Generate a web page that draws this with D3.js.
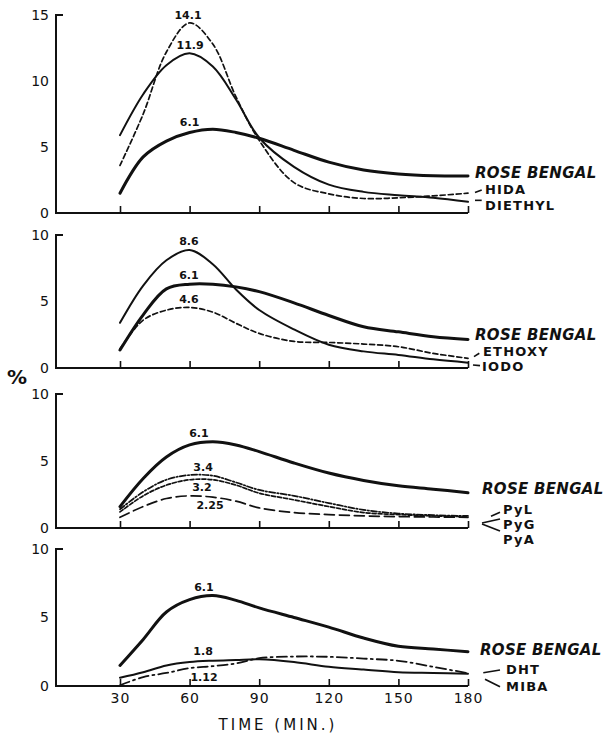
<!DOCTYPE html>
<html>
<head>
<meta charset="utf-8">
<script src="https://cdnjs.cloudflare.com/ajax/libs/d3/7.8.5/d3.min.js"></script>
<style>
  html, body { margin: 0; padding: 0; background: #fff; }
  svg { display: block; }
  text { font-family: "DejaVu Sans", sans-serif; fill: #111; }
</style>
</head>
<body>
<div id="chart"></div>
<script>
// ---- Data ---------------------------------------------------------
// sampling times (min) shared by every curve
const TIMES   = [30, 40, 50, 60, 70, 80, 90, 105, 120, 135, 150, 165, 180];
const X_TICKS = [30, 60, 90, 120, 150, 180];

// panel A
const ROSE_BENGAL_A = [1.5, 4.25, 5.45, 6.1, 6.35, 6.1, 5.66, 4.75, 3.85, 3.25, 2.95, 2.82, 2.8];
const HIDA          = [3.6, 7.5, 12.2, 14.4, 12.8, 8.8, 5.5, 2.3, 1.45, 1.1, 1.15, 1.3, 1.5];
const DIETHYL       = [5.9, 9.0, 11.2, 12.1, 11.1, 8.6, 5.7, 3.5, 2.15, 1.6, 1.35, 1.15, 0.85];
const NAMES_A = ['ROSE BENGAL', 'HIDA', 'DIETHYL'];
const PEAKS_A = ['14.1', '11.9', '6.1'];
const Y_TICKS_A = [0, 5, 10, 15];

// panel B
const ROSE_BENGAL_B = [1.35, 4.0, 5.95, 6.3, 6.3, 6.1, 5.74, 4.9, 3.95, 3.1, 2.72, 2.35, 2.15];
const ETHOXY        = [1.45, 3.6, 4.35, 4.55, 4.2, 3.36, 2.6, 2.0, 1.92, 1.8, 1.6, 1.1, 0.73];
const IODO          = [3.4, 6.2, 8.1, 8.87, 7.8, 5.9, 4.36, 2.9, 1.75, 1.25, 0.98, 0.65, 0.4];
const NAMES_B = ['ROSE BENGAL', 'ETHOXY', 'IODO'];
const PEAKS_B = ['8.6', '6.1', '4.6'];

// panel C
const ROSE_BENGAL_C = [1.6, 3.7, 5.3, 6.2, 6.44, 6.2, 5.7, 4.85, 4.1, 3.55, 3.15, 2.9, 2.63];
const PYL           = [1.4, 2.7, 3.6, 3.95, 3.9, 3.4, 2.84, 2.4, 1.86, 1.35, 1.08, 0.96, 0.9];
const PYG           = [1.2, 2.4, 3.2, 3.6, 3.6, 3.2, 2.6, 2.1, 1.6, 1.15, 1.0, 0.9, 0.85];
const PYA           = [0.8, 1.6, 2.2, 2.4, 2.3, 2.0, 1.5, 1.15, 1.0, 0.9, 0.85, 0.82, 0.8];
const NAMES_C = ['ROSE BENGAL', 'PyL', 'PyG', 'PyA'];
const PEAKS_C = ['6.1', '3.4', '3.2', '2.25'];

// panel D
const ROSE_BENGAL_D = [1.5, 3.4, 5.4, 6.3, 6.6, 6.25, 5.7, 5.0, 4.3, 3.5, 2.9, 2.7, 2.5];
const DHT           = [0.05, 0.65, 0.95, 1.3, 1.45, 1.65, 2.03, 2.15, 2.13, 2.0, 1.84, 1.4, 0.93];
const MIBA          = [0.6, 1.0, 1.5, 1.75, 1.85, 1.9, 1.95, 1.75, 1.4, 1.2, 1.0, 0.95, 0.9];
const NAMES_D = ['ROSE BENGAL', 'DHT', 'MIBA'];
const PEAKS_D = ['6.1', '1.8', '1.12'];
const Y_TICKS = [0, 5, 10];

// ---- Styles -------------------------------------------------------
const STYLE = {
  thick:   { w: 3.0, dash: null },
  thin:    { w: 2.0, dash: null },
  dash:    { w: 1.7, dash: '5,3' },
  dashdot: { w: 1.7, dash: '6,2,1.5,2' },
  short:   { w: 1.7, dash: '4,2' },
  long:    { w: 1.7, dash: '10,5' },
  chain:   { w: 1.8, dash: '10,4,2,4' }
};

// ---- Layout -------------------------------------------------------
const W = 606, H = 734;
const AXIS_X = 56;
const x = d3.scaleLinear().domain([30, 180]).range([120, 468]);

// label specs: [text start x, value for vertical centre, leader [dx1,dy1,dx2,dy2]]
const PANELS = [
  { top: 15, bottom: 213, yMax: 15, ticks: Y_TICKS_A,
    series: [[ROSE_BENGAL_A, 'thick'], [DIETHYL, 'thin'], [HIDA, 'dash']],
    names: NAMES_A,
    nameAt: [[475, 3.05, null], [485, 1.76, [-10, 2.8, -3.3, 0.2]], [485, 0.58, [-10, -5, -3.3, -5]]],
    peaks: PEAKS_A, peakAt: [[59.3, 15.0], [60.2, 12.7], [60.0, 6.9]] },
  { top: 235, bottom: 368, yMax: 10, ticks: Y_TICKS,
    series: [[ROSE_BENGAL_B, 'thick'], [IODO, 'thin'], [ETHOXY, 'dash']],
    names: NAMES_B,
    nameAt: [[475, 2.53, null], [483, 1.28, [-9, 5.7, -3.7, 2.3]], [482, 0.1, [-9, -1.7, -2, -1]]],
    peaks: PEAKS_B, peakAt: [[59.7, 9.57], [59.7, 7.0], [59.7, 5.19]] },
  { top: 394, bottom: 528, yMax: 10, ticks: Y_TICKS,
    series: [[ROSE_BENGAL_C, 'thick'], [PYL, 'dashdot'], [PYG, 'short'], [PYA, 'long']],
    names: NAMES_C,
    nameAt: [[482, 2.96, null], [503, 1.40, [-12, 7, -3, 3]], [503, 0.3, [-21, -1, -3, -5]], [503, -0.82, [-21, -15, -3, -8]]],
    peaks: PEAKS_C, peakAt: [[64, 7.09], [65.8, 4.55], [65.3, 3.06], [68.8, 1.72]] },
  { top: 549, bottom: 686, yMax: 10, ticks: Y_TICKS,
    series: [[ROSE_BENGAL_D, 'thick'], [MIBA, 'thin'], [DHT, 'chain']],
    names: NAMES_D,
    nameAt: [[480, 2.63, null], [506, 1.22, [-22.7, 3.4, -6, 0.7]], [506, -0.05, [-21, -7.4, -6, 0]]],
    peaks: PEAKS_D, peakAt: [[66.2, 7.2], [65.8, 2.55], [66.2, 0.66]] }
];

const svg = d3.select('#chart').append('svg')
  .attr('width', W).attr('height', H)
  .attr('viewBox', `0 0 ${W} ${H}`);

PANELS.forEach((p, pi) => {
  const y = d3.scaleLinear().domain([0, p.yMax]).range([p.bottom, p.top]);
  const g = svg.append('g');
  const isLast = pi === PANELS.length - 1;

  // ---- axes ----
  g.append('path')
    .attr('d', `M${AXIS_X + 7},${y(p.yMax)}H${AXIS_X}V${y(0)}H${x(180)}`)
    .attr('fill', 'none').attr('stroke', '#111').attr('stroke-width', 2);

  const yAxis = g.append('g')
    .attr('transform', `translate(${AXIS_X},0)`)
    .call(d3.axisLeft(y).tickValues(p.ticks).tickSize(0).tickPadding(7));
  yAxis.select('.domain').remove();
  yAxis.selectAll('text').attr('font-size', 14).style('font-family', '"DejaVu Sans", sans-serif');

  const xAxis = g.append('g')
    .attr('transform', `translate(0,${y(0)})`)
    .call(d3.axisBottom(x).tickValues(X_TICKS).tickSizeInner(-7).tickSizeOuter(0)
      .tickPadding(7).tickFormat(isLast ? d3.format('d') : () => ''));
  xAxis.select('.domain').remove();
  xAxis.selectAll('line').attr('stroke', '#111').attr('stroke-width', 1.6);
  xAxis.selectAll('text').attr('font-size', 14).attr('letter-spacing', 1)
    .style('font-family', '"DejaVu Sans", sans-serif');

  // ---- curves ----
  const line = d3.line()
    .x((d, i) => x(TIMES[i]))
    .y(d => y(d))
    .curve(d3.curveCatmullRom.alpha(0.5));

  p.series.forEach(([vals, kind]) => {
    const st = STYLE[kind];
    g.append('path')
      .datum(vals)
      .attr('d', line)
      .attr('fill', 'none')
      .attr('stroke', '#111')
      .attr('stroke-width', st.w)
      .attr('stroke-linecap', 'round')
      .attr('stroke-dasharray', st.dash);
  });

  // ---- peak values ----
  p.peaks.forEach((t, i) => {
    const [tx, ty] = p.peakAt[i];
    g.append('text')
      .attr('x', x(tx)).attr('y', y(ty)).attr('dy', '0.36em')
      .attr('text-anchor', 'middle')
      .attr('font-size', 11).attr('font-weight', 'bold')
      .text(t);
  });

  // ---- series names ----
  p.names.forEach((name, i) => {
    const [lx, lv, lead] = p.nameAt[i];
    const cy = y(lv);
    const rose = i === 0;
    g.append('text')
      .attr('x', lx).attr('y', cy).attr('dy', '0.36em')
      .attr('font-size', rose ? 15 : 13)
      .attr('font-weight', 'bold')
      .attr('font-style', rose ? 'italic' : 'normal')
      .attr('letter-spacing', rose ? 0.3 : 1.2)
      .text(name);
    if (lead) {
      g.append('line')
        .attr('x1', lx + lead[0]).attr('y1', cy + lead[1])
        .attr('x2', lx + lead[2]).attr('y2', cy + lead[3])
        .attr('stroke', '#111').attr('stroke-width', 1.6);
    }
  });
});

// ---- shared titles ----
svg.append('text')
  .attr('x', 17).attr('y', 377).attr('dy', '0.36em')
  .attr('text-anchor', 'middle')
  .attr('font-size', 20).attr('font-weight', 'bold')
  .text('%');

svg.append('text')
  .attr('x', 278).attr('y', 725).attr('dy', '0.36em')
  .attr('text-anchor', 'middle')
  .attr('font-size', 15).attr('letter-spacing', 3)
  .text('TIME (MIN.)');
</script>
</body>
</html>
